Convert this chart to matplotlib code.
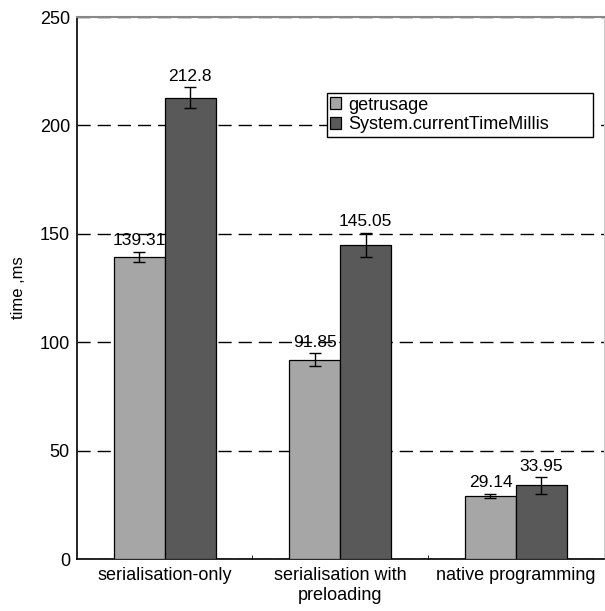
import numpy as np
import matplotlib.pyplot as plt

plt.rcParams['font.family'] = ['Liberation Sans', 'DejaVu Sans']

categories = ['serialisation-only', 'serialisation with\npreloading', 'native programming']
series = ['getrusage', 'System.currentTimeMillis']
getrusage = [139.31, 91.85, 29.14]
getrusage_err = [2.5, 3.0, 1.1]
millis = [212.8, 145.05, 33.95]
millis_err = [4.8, 5.5, 4.0]
colors = ['#a6a6a6', '#595959']

fig = plt.figure(figsize=(6.05, 6.11), dpi=100)
ax = fig.add_axes([0.127, 0.085, 0.871, 0.887])

x = np.arange(len(categories))
w = 0.29
vals = [getrusage, millis]
errs = [getrusage_err, millis_err]
for i in range(2):
    xs = x + (i - 0.5) * w
    ax.bar(xs, vals[i], w, color=colors[i], edgecolor='black', linewidth=0.9,
           yerr=errs[i], capsize=4.5, error_kw=dict(elinewidth=1, capthick=1),
           label=series[i], zorder=3)
    for xx, v, e in zip(xs, vals[i], errs[i]):
        ax.text(xx, v + e + 1.5, f'{v:g}', ha='center', va='bottom', fontsize=12.5, zorder=4)

ax.set_xlim(-0.5, 2.5)
ax.set_ylim(0, 250)
ax.set_yticks([0, 50, 100, 150, 200, 250])
ax.set_xticks(x)
ax.set_xticklabels(categories, fontsize=13)
ax.set_xticks([0.5, 1.5], minor=True)
ax.tick_params(axis='x', which='major', length=0, pad=6)
ax.tick_params(axis='x', which='minor', length=3, direction='in')
ax.tick_params(axis='y', length=0, labelsize=13, pad=5)
ax.yaxis.grid(True, linestyle=(0, (9.5, 5)), color='black', linewidth=1, zorder=0)
ax.set_axisbelow(True)
ax.set_ylabel('time ,ms', fontsize=12, labelpad=10)

ax.spines['left'].set_linewidth(1.2)
ax.spines['bottom'].set_linewidth(1.2)
ax.spines['top'].set_color('#888888')
ax.spines['top'].set_linewidth(1.5)
ax.spines['right'].set_color('#cccccc')

leg = ax.legend(loc='upper left', bbox_to_anchor=(0.474, 0.78, 0.505, 0.08), mode='expand',
                fontsize=13, frameon=True, fancybox=False, edgecolor='black', framealpha=1,
                handlelength=0.6, handleheight=0.6, handletextpad=0.4,
                borderpad=0.2, labelspacing=0.15, borderaxespad=0)
leg.get_frame().set_linewidth(1)

fig.savefig('out.png', dpi=100)
